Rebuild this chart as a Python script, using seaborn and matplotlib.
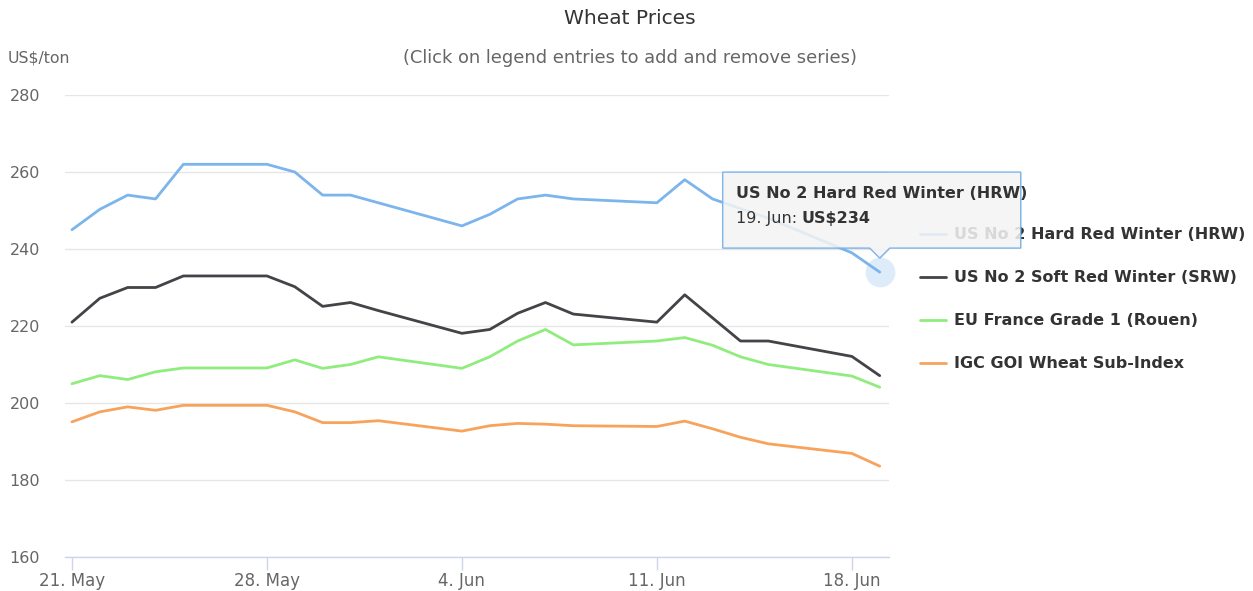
import pandas as pd
import matplotlib
matplotlib.use('Agg')
import matplotlib.pyplot as plt
import matplotlib.dates as mdates
from matplotlib.patches import Polygon
from matplotlib.text import Annotation
from matplotlib.transforms import Affine2D
import seaborn as sns

# Trading days shown on the chart
dates = ['2018-05-21', '2018-05-22', '2018-05-23', '2018-05-24', '2018-05-25',
         '2018-05-28', '2018-05-29', '2018-05-30', '2018-05-31', '2018-06-01',
         '2018-06-04', '2018-06-05', '2018-06-06', '2018-06-07', '2018-06-08',
         '2018-06-11', '2018-06-12', '2018-06-13', '2018-06-14', '2018-06-15',
         '2018-06-18', '2018-06-19']

hrw = [245, 250.3, 254, 253, 262, 262, 260, 254, 254, 252,
       246, 249, 253, 254, 253, 252, 258, 253, 250.5, 248, 239, 234]
srw = [221, 227.2, 230, 230, 233, 233, 230.2, 225.1, 226.1, 224,
       218.1, 219.1, 223.3, 226.1, 223.1, 221, 228.1, 222.1, 216.1, 216.1, 212.1, 207.1]
eu = [205, 207.1, 206.1, 208.1, 209.1, 209.1, 211.2, 209, 210, 212,
      209, 212, 216.1, 219.1, 215.1, 216.1, 217, 215, 212, 210, 207, 204.1]
igc = [195.1, 197.7, 199, 198.1, 199.4, 199.4, 197.7, 194.9, 194.9, 195.4,
       192.7, 194.1, 194.7, 194.5, 194.1, 193.9, 195.3, 193.3, 191.1, 189.4, 186.9, 183.6]

series_names = ['US No 2 Hard Red Winter (HRW)', 'US No 2 Soft Red Winter (SRW)',
                'EU France Grade 1 (Rouen)', 'IGC GOI Wheat Sub-Index']
colors = ['#7cb5ec', '#434348', '#90ed7d', '#f7a35c']

yticks = [160, 180, 200, 220, 240, 260, 280]
xtick_dates = ['2018-05-21', '2018-05-28', '2018-06-04', '2018-06-11', '2018-06-18']
xtick_labels = ['21. May', '28. May', '4. Jun', '11. Jun', '18. Jun']

tooltip_title = 'US No 2 Hard Red Winter (HRW)'
tooltip_date = '19. Jun: '
tooltip_value = 'US$234'

# long format for seaborn
frames = []
for name, vals in zip(series_names, [hrw, srw, eu, igc]):
    frames.append(pd.DataFrame({'date': pd.to_datetime(dates), 'price': vals, 'series': name}))
df = pd.concat(frames, ignore_index=True)

sns.set_style('white')
plt.rcParams['font.family'] = ['DejaVu Sans']

fig = plt.figure(figsize=(12.53, 5.91), dpi=100)
ax = fig.add_axes([65 / 1253, 34 / 591, 824 / 1253, 462 / 591])

sns.lineplot(data=df, x='date', y='price', hue='series', hue_order=series_names,
             palette=colors, linewidth=2, ax=ax)

d0 = pd.Timestamp(dates[0])
ax.set_xlim(d0 - pd.Timedelta(hours=6), pd.Timestamp(dates[-1]) + pd.Timedelta(hours=8))
ax.set_ylim(yticks[0], yticks[-1])
ax.set_yticks(yticks)
ax.set_xticks(pd.to_datetime(xtick_dates))
ax.set_xticklabels(xtick_labels)
ax.set_xlabel('')
ax.set_ylabel('')

ax.grid(axis='y', color='#e6e6e6', linewidth=1)
ax.grid(axis='x', visible=False)
for s in ['top', 'right', 'left']:
    ax.spines[s].set_visible(False)
ax.spines['bottom'].set_color('#ccd6eb')
ax.spines['bottom'].set_linewidth(1)
ax.tick_params(axis='y', length=0, pad=18, labelsize=11.5, labelcolor='#666666')
ax.tick_params(axis='x', length=9, width=1, color='#ccd6eb', pad=2,
               labelsize=12, labelcolor='#666666', direction='out')
ax.xaxis.set_tick_params(bottom=True)

# legend on the right
handles, labels = ax.get_legend_handles_labels()
leg = ax.legend(handles, labels, loc='upper left', bbox_to_anchor=(914 / 1253, 1 - 221 / 591),
                bbox_transform=fig.transFigure, frameon=False, handlelength=1.6,
                handletextpad=0.5, labelspacing=1.75, borderaxespad=0,
                prop={'weight': 'bold', 'size': 11.5})
for t in leg.get_texts():
    t.set_color('#333333')

# titles
fig.text(630 / 1253, 1 - 18 / 591, 'Wheat Prices', ha='center', va='center',
         fontsize=14.5, color='#333333')
fig.text(630 / 1253, 1 - 58 / 591, '(Click on legend entries to add and remove series)',
         ha='center', va='center', fontsize=12.9, color='#666666')
fig.text(8 / 1253, 1 - 58 / 591, 'US$/ton', ha='left', va='center',
         fontsize=11.3, color='#666666')

# hover halo on the last HRW point
last_x = pd.Timestamp(dates[-1])
last_y = hrw[-1]
ax.scatter([last_x], [last_y], s=460, color=colors[0], alpha=0.25, linewidths=0,
           zorder=5, clip_on=False)

# tooltip anchored to that point
px, py = ax.transData.transform((mdates.date2num(last_x), last_y))
tr = Affine2D().translate(px, py)
outline = [(-157, 24), (-10, 24), (0, 14), (10, 24), (141, 24), (141, 100), (-157, 100)]
shadow = Polygon([(x + 1, y - 1) for x, y in outline], closed=True, transform=tr,
                 facecolor='#000000', alpha=0.08, edgecolor='none', zorder=9)
box = Polygon(outline, closed=True, transform=tr, facecolor='#f7f7f7', alpha=0.85,
              edgecolor='none', zorder=10)
border = Polygon(outline, closed=True, transform=tr, facecolor='none',
                 edgecolor=colors[0], linewidth=1, zorder=11)
for p in (shadow, box, border):
    fig.add_artist(p)

t1 = fig.text(0, 0, tooltip_title, transform=Affine2D().translate(px - 144, py + 79),
              ha='left', va='center', fontsize=11.5, fontweight='bold', color='#333333', zorder=12)
t2 = fig.text(0, 0, tooltip_date, transform=Affine2D().translate(px - 144, py + 54),
              ha='left', va='center', fontsize=11.5, color='#333333', zorder=12)
t3 = Annotation(tooltip_value, xy=(1, 0.5), xycoords=t2, ha='left', va='center',
                fontsize=11.5, fontweight='bold', color='#333333', zorder=12)
fig.add_artist(t3)

fig.savefig('out.png', dpi=100)
